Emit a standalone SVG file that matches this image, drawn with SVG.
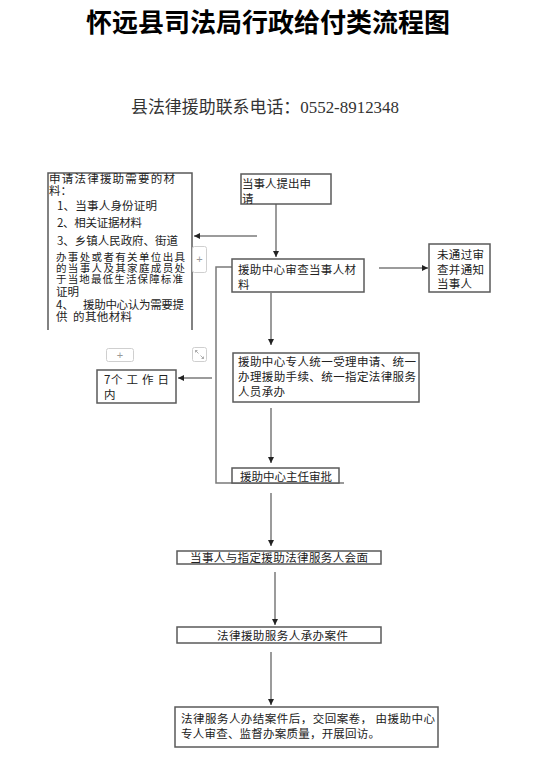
<svg xmlns="http://www.w3.org/2000/svg" width="539" height="769" viewBox="0 0 539 769">
<style>
.t{font-family:"Noto Sans CJK SC","Liberation Sans",sans-serif;font-size:11.5px;fill:#222}
.s{font-size:10.5px}
.box{fill:#fff;stroke:#5a5a5a;stroke-width:1.5}
.ln{fill:none;stroke:#7a7a7a;stroke-width:1.5}
.ui{fill:#fff;stroke:#cfcfcf;stroke-width:1}
.uit{font-family:"Liberation Sans",sans-serif;font-size:11px;fill:#999}
</style>
<defs>
<marker id="ah" markerUnits="userSpaceOnUse" markerWidth="7" markerHeight="7" refX="6" refY="3" orient="auto">
<path d="M0,0 L6,3 L0,6 z" fill="#222"/>
</marker>
</defs>
<rect x="0" y="0" width="539" height="769" fill="#fff"/>
<g id="title">
<text x="268" y="32" text-anchor="middle" style="font-family:'Noto Sans CJK SC',sans-serif;font-weight:bold;font-size:26px;fill:#000">怀远县司法局行政给付类流程图</text>
<text x="131" y="113" textLength="268" lengthAdjust="spacingAndGlyphs" style="font-family:'Liberation Serif','Noto Sans CJK SC',serif;font-size:16.5px;fill:#333">县法律援助联系电话：0552-8912348</text>
</g>
<g id="connectors">
<line class="ln" x1="276" y1="204" x2="276" y2="257" marker-end="url(#ah)"/>
<line class="ln" x1="257" y1="236" x2="194" y2="236" marker-end="url(#ah)"/>
<polyline class="ln" points="233,267 216,267 216,483 344,483"/>
<line class="ln" x1="212" y1="378" x2="178" y2="378" marker-end="url(#ah)"/>
<line class="ln" x1="379" y1="268" x2="428" y2="268" marker-end="url(#ah)"/>
<line class="ln" x1="271" y1="293" x2="271" y2="345" marker-end="url(#ah)"/>
<line class="ln" x1="271" y1="408" x2="271" y2="463" marker-end="url(#ah)"/>
<line class="ln" x1="271" y1="493" x2="271" y2="546" marker-end="url(#ah)"/>
<line class="ln" x1="275" y1="572" x2="275" y2="625" marker-end="url(#ah)"/>
<line class="ln" x1="271" y1="652" x2="271" y2="705" marker-end="url(#ah)"/>
</g>
<g id="materials">
<path d="M48,330 L48,173 L192,173 L192,330" fill="#fff" stroke="#5a5a5a" stroke-width="1.5"/>
<text class="t" x="49" y="183" textLength="126" lengthAdjust="spacing">申请法律援助需要的材</text>
<text class="t" x="49" y="195">料：</text>
<text class="t" x="57" y="209.5" textLength="100" lengthAdjust="spacing">1、当事人身份证明</text>
<text class="t" x="57" y="226.5" textLength="85" lengthAdjust="spacing">2、相关证据材料</text>
<text class="t" x="57" y="244.5" textLength="121" lengthAdjust="spacing">3、乡镇人民政府、街道</text>
<text class="t s" x="56" y="261" textLength="129" lengthAdjust="spacing">办事处或者有关单位出具</text>
<text class="t s" x="56" y="272" textLength="129" lengthAdjust="spacing">的当事人及其家庭成员处</text>
<text class="t s" x="56" y="283" textLength="127" lengthAdjust="spacing">于当地最低生活保障标准</text>
<text class="t" x="56" y="296">证明</text>
<text class="t" x="56" y="308.5">4、</text>
<text class="t" x="83" y="308.5" textLength="101" lengthAdjust="spacing">援助中心认为需要提</text>
<text class="t" x="56" y="321">供</text>
<text class="t" x="73" y="321" textLength="59" lengthAdjust="spacing">的其他材料</text>
</g>
<g id="ui-controls">
<rect class="ui" x="192.5" y="246.5" width="14" height="26" rx="2"/>
<text class="uit" x="199.5" y="263" text-anchor="middle">+</text>
<rect class="ui" x="106.5" y="348.5" width="27" height="13" rx="2"/>
<text class="uit" x="120" y="359" text-anchor="middle">+</text>
<rect class="ui" x="192.5" y="347.5" width="14" height="14" rx="2"/>
<path d="M195.5,350.5 l3,3 M195.5,350.5 l0,2 M195.5,350.5 l2,0 M203.5,358.5 l-3,-3 M203.5,358.5 l0,-2 M203.5,358.5 l-2,0" stroke="#999" stroke-width="0.8" fill="none"/>
</g>
<g id="apply">
<rect class="box" x="241" y="174" width="90" height="30"/>
<text class="t" x="242" y="187.5" textLength="69" lengthAdjust="spacing">当事人提出申</text>
<text class="t" x="242" y="202.5">请</text>
</g>
<g id="review">
<rect class="box" x="232" y="259" width="132" height="33"/>
<text class="t" x="238" y="273.5" textLength="118" lengthAdjust="spacing">援助中心审查当事人材</text>
<text class="t" x="238" y="288.5">料</text>
</g>
<g id="reject">
<rect class="box" x="429" y="244" width="61" height="48"/>
<text class="t" x="437" y="258.5" textLength="47" lengthAdjust="spacing">未通过审</text>
<text class="t" x="437" y="273.5" textLength="47" lengthAdjust="spacing">查并通知</text>
<text class="t" x="437" y="287.5" textLength="35" lengthAdjust="spacing">当事人</text>
</g>
<g id="days">
<rect class="box" x="97" y="370" width="79" height="33"/>
<text class="t" x="104" y="383.5" textLength="65" lengthAdjust="spacing">7个 工 作 日</text>
<text class="t" x="104" y="398.5">内</text>
</g>
<g id="accept">
<rect class="box" x="233" y="353" width="186" height="49"/>
<text class="t" x="238" y="365.5" textLength="178" lengthAdjust="spacing">援助中心专人统一受理申请、统一</text>
<text class="t" x="238" y="380.5" textLength="178" lengthAdjust="spacing">办理援助手续、统一指定法律服务</text>
<text class="t" x="238" y="395.5" textLength="47" lengthAdjust="spacing">人员承办</text>
</g>
<g id="approve">
<rect class="box" x="232" y="468" width="107" height="15"/>
<text class="t" x="240" y="481" textLength="92" lengthAdjust="spacing">援助中心主任审批</text>
</g>
<g id="meet">
<rect class="box" x="177" y="551" width="204" height="13"/>
<text class="t" x="190" y="562" textLength="178" lengthAdjust="spacing">当事人与指定援助法律服务人会面</text>
</g>
<g id="handle">
<rect class="box" x="177" y="627" width="204" height="16"/>
<text class="t" x="217" y="639.5" textLength="131" lengthAdjust="spacing">法律援助服务人承办案件</text>
</g>
<g id="close">
<rect class="box" x="175" y="707" width="263" height="40"/>
<text class="t" x="181" y="722.5" textLength="254" lengthAdjust="spacing">法律服务人办结案件后，交回案卷， 由援助中心</text>
<text class="t" x="181" y="737.5" textLength="199" lengthAdjust="spacing">专人审查、监督办案质量，开展回访。</text>
</g>
</svg>
